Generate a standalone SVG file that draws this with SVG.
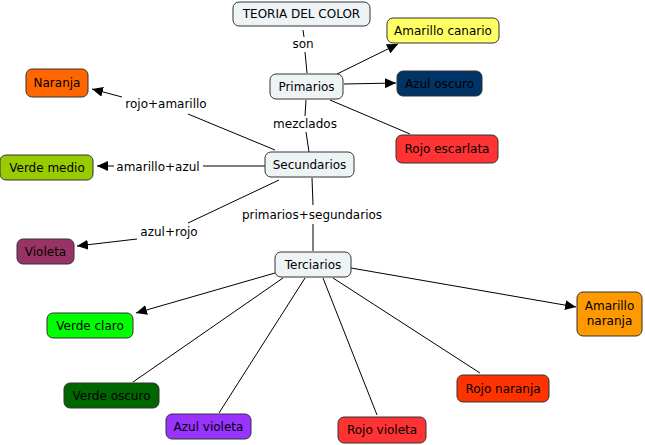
<svg xmlns="http://www.w3.org/2000/svg" width="645" height="445" viewBox="0 0 645 445">
<defs>
<marker id="arr" markerUnits="userSpaceOnUse" markerWidth="12" markerHeight="10" refX="11" refY="5" orient="auto">
<path d="M0,0 L11,5 L0,10 Z" fill="#000"/>
</marker>
<style>
.n{stroke:#333;stroke-width:1}
.c{fill:#EEF3F6}
text{font-family:"DejaVu Sans",Verdana,sans-serif;font-size:12px;fill:#000;text-anchor:middle}
.l line{stroke:#000;stroke-width:1}
.a{marker-end:url(#arr)}
</style>
</defs>
<rect width="645" height="445" fill="#fff"/>
<g id="connectors" class="l">
<line x1="303" y1="30" x2="304" y2="37"/>
<line x1="305" y1="52" x2="307" y2="73"/>
<line class="a" x1="337" y1="74" x2="398" y2="44"/>
<line class="a" x1="344" y1="84" x2="396" y2="83"/>
<line x1="330" y1="100" x2="410" y2="134"/>
<line x1="306" y1="100" x2="305" y2="116"/>
<line x1="306" y1="132" x2="309" y2="152"/>
<line x1="275" y1="150" x2="188" y2="114"/>
<line class="a" x1="122" y1="97" x2="92" y2="89"/>
<line x1="265" y1="166" x2="203" y2="166"/>
<line class="a" x1="114" y1="166" x2="97" y2="166"/>
<line x1="279" y1="180" x2="188" y2="223"/>
<line class="a" x1="137" y1="239" x2="77" y2="246"/>
<line x1="312" y1="178" x2="313" y2="205"/>
<line x1="313" y1="224" x2="313" y2="251"/>
<line class="a" x1="275" y1="273" x2="136" y2="313"/>
<line x1="283" y1="278" x2="133" y2="382"/>
<line x1="305" y1="278" x2="219" y2="413"/>
<line x1="323" y1="278" x2="377" y2="415"/>
<line x1="333" y1="278" x2="480" y2="373"/>
<line class="a" x1="351" y1="268" x2="576" y2="307"/>
<text x="303" y="48">son</text>
<text x="305" y="128">mezclados</text>
<text x="166" y="108">rojo+amarillo</text>
<text x="158" y="171">amarillo+azul</text>
<text x="169" y="236">azul+rojo</text>
<text x="312" y="219">primarios+segundarios</text>
</g>
<g id="teoria"><rect class="n c" x="233" y="2" width="137" height="24" rx="6"/><text x="301.5" y="18">TEORIA DEL COLOR</text></g>
<g id="amarillo-canario"><rect class="n" fill="#FFFF66" x="387" y="18" width="112" height="25" rx="6"/><text x="443" y="35">Amarillo canario</text></g>
<g id="azul-oscuro"><rect class="n" fill="#003366" x="397" y="71" width="85" height="25" rx="6"/><text x="439.5" y="88">Azul oscuro</text></g>
<g id="primarios"><rect class="n c" x="270" y="74" width="73" height="25" rx="6"/><text x="306.5" y="91">Primarios</text></g>
<g id="rojo-escarlata"><rect class="n" fill="#FF3333" x="396" y="135" width="102" height="28" rx="6"/><text x="447" y="153">Rojo escarlata</text></g>
<g id="secundarios"><rect class="n c" x="265" y="152" width="89" height="25" rx="6"/><text x="309.5" y="169">Secundarios</text></g>
<g id="naranja"><rect class="n" fill="#FF6600" x="26" y="69" width="62" height="28" rx="6"/><text x="57" y="87">Naranja</text></g>
<g id="verde-medio"><rect class="n" fill="#99CC00" x="0" y="155" width="93" height="25" rx="6"/><text x="47" y="172">Verde medio</text></g>
<g id="violeta"><rect class="n" fill="#993366" x="17" y="239" width="57" height="25" rx="6"/><text x="45.5" y="256">Violeta</text></g>
<g id="terciarios"><rect class="n c" x="275" y="252" width="76" height="25" rx="6"/><text x="313" y="269">Terciarios</text></g>
<g id="verde-claro"><rect class="n" fill="#00FF00" x="47" y="313" width="86" height="25" rx="6"/><text x="90" y="330">Verde claro</text></g>
<g id="verde-oscuro"><rect class="n" fill="#006600" x="64" y="383" width="95" height="25" rx="6"/><text x="111.5" y="400">Verde oscuro</text></g>
<g id="azul-violeta"><rect class="n" fill="#9933FF" x="166" y="414" width="85" height="25" rx="6"/><text x="208.5" y="431">Azul violeta</text></g>
<g id="rojo-violeta"><rect class="n" fill="#FF3333" x="338" y="417" width="88" height="26" rx="6"/><text x="382" y="434">Rojo violeta</text></g>
<g id="rojo-naranja"><rect class="n" fill="#FF3300" x="457" y="375" width="92" height="27" rx="6"/><text x="503" y="393">Rojo naranja</text></g>
<g id="amarillo-naranja"><rect class="n" fill="#FF9900" x="577" y="292" width="65" height="44" rx="6"/><text x="609.5" y="310">Amarillo</text><text x="609.5" y="325">naranja</text></g>
</svg>
